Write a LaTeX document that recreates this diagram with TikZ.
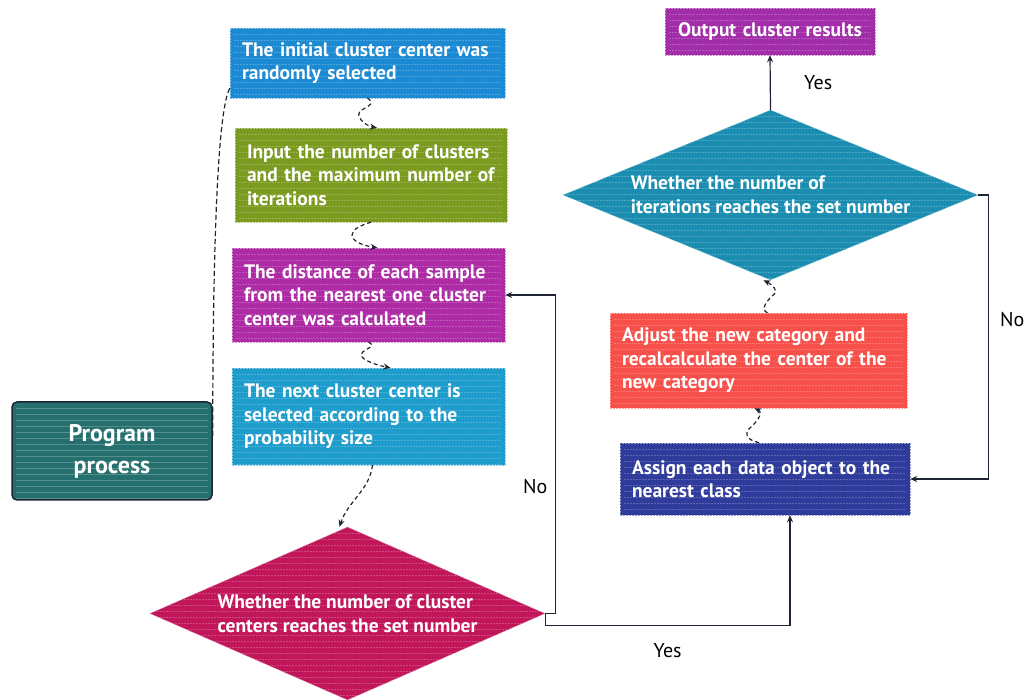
\documentclass[tikz,border=0pt]{standalone}
\usepackage{fontspec}
\setmainfont{PT Sans}
\usetikzlibrary{shapes.geometric,arrows.meta}
\definecolor{initblue}{HTML}{1B8AD3}
\definecolor{inputgreen}{HTML}{7B9A20}
\definecolor{distpurple}{HTML}{AE2BA6}
\definecolor{nextcyan}{HTML}{1E9CCB}
\definecolor{progteal}{HTML}{25706F}
\definecolor{centerred}{HTML}{C1175A}
\definecolor{iterteal}{HTML}{1A8DB0}
\definecolor{outpurple}{HTML}{A12DA9}
\definecolor{adjustred}{HTML}{F7504A}
\definecolor{assignblue}{HTML}{2F3C9B}
\definecolor{linegray}{HTML}{1E2433}
\tikzset{
  streaks/.style={path picture={
    \foreach \k in {1,...,30}
      \draw[white, opacity=0.22, line width=0.7pt]
        ([yshift=-\k*6pt, xshift=4pt]path picture bounding box.north west) --
        ([yshift=-\k*6pt, xshift=-4pt]path picture bounding box.north east);}},
  box/.style={draw=#1!50!white, dash pattern=on 2pt off 1pt, fill=#1, streaks, text=white,
    font=\bfseries\fontsize{19.5}{23.5}\selectfont, align=left, inner xsep=12pt, inner ysep=0pt},
  decision/.style={diamond, shape aspect=2.4, draw=#1!50!white, dash pattern=on 2pt off 1pt,
    fill=#1, streaks, text=white, font=\bfseries\fontsize{19.5}{24}\selectfont, align=left, inner sep=0pt},
  line/.style={draw=linegray, line width=1.2pt, -{Stealth[length=7pt,width=6pt]}},
  squig/.style={line, dash pattern=on 4pt off 3pt},
  lbl/.style={font=\fontsize{20}{22}\selectfont, text=black},
}
\begin{document}
\begin{tikzpicture}[x=1pt, y=-1pt]
\useasboundingbox (0,0) rectangle (1026,700);
% left column
\node[box=initblue, text width=251pt, minimum height=70pt] (init) at (367.5,63) {The initial cluster center was\\randomly selected};
\node[box=inputgreen, text width=248pt, minimum height=94pt] (input) at (371,175) {Input the number of clusters\\and the maximum number of\\iterations};
\node[box=distpurple, text width=249pt, minimum height=94pt] (dist) at (368.5,295) {The distance of each sample\\from the nearest one cluster\\center was calculated};
\node[box=nextcyan, text width=249pt, minimum height=97pt] (next) at (368.5,416.5) {The next cluster center is\\selected according to the\\probability size};
\node[box=progteal, draw=linegray, solid, line width=1.5pt, rounded corners=5pt, align=center, text width=176pt,
  minimum height=98pt, font=\bfseries\fontsize{24}{32}\selectfont] (prog) at (112,451) {Program\\process};
\node[decision=centerred, minimum width=395pt, minimum height=173pt] (ccheck) at (347.5,613.5) {Whether the number of cluster\\centers reaches the set number};
% right column
\node[box=assignblue, text width=266pt, minimum height=72pt] (assign) at (765,479) {Assign each data object to the\\nearest class};
\node[box=adjustred, text width=273pt, minimum height=95pt] (adjust) at (758.5,360.5) {Adjust the new category and\\recalcalculate the center of the\\new category};
\node[decision=iterteal, minimum width=415pt, minimum height=170pt] (icheck) at (770.5,195) {Whether the number of\\iterations reaches the set number};
\node[box=outpurple, align=center, text width=186pt, minimum height=47pt] (result) at (770,31.5) {Output cluster results};
% connectors
\draw[line, -, dash pattern=on 5pt off 3pt] ([yshift=10pt]init.south west) .. controls +(-14,25) and +(0,-150) .. ([yshift=15pt]prog.east);
\draw[squig] (init.south) .. controls +(8,5) and +(8,-5) .. ++(-6,12) .. controls +(-8,5) and +(-12,-2) .. ([xshift=6pt]input.north);
\draw[squig] (input.south) .. controls +(-10,3) and +(0,-6) .. ++(-19,13) .. controls +(0,6) and +(-14,-2) .. ([xshift=9pt]dist.north);
\draw[squig] (dist.south) .. controls +(8,4) and +(6,-5) .. ++(-6,10) .. controls +(-6,6) and +(-16,-3) .. ([xshift=22pt]next.north);
\draw[squig] ([xshift=4pt]next.south) .. controls +(-3,25) and +(8,-25) .. ([xshift=-8pt]ccheck.north);
\draw[line] (ccheck.east) -- ++(10,0) |- node[lbl, pos=0.2, left=4pt] {No} (dist.east);
\draw[line] (ccheck.east) -- ++(0,12) -| node[lbl, pos=0.25, below=14pt] {Yes} ([xshift=25pt]assign.south);
\draw[squig] ([xshift=-6pt]assign.north) .. controls +(-14,-4) and +(-4,6) .. ++(-10,-14) .. controls +(6,-5) and +(10,5) .. ([xshift=-4pt]adjust.south);
\draw[squig] ([xshift=9pt]adjust.north) .. controls +(-8,-3) and +(-6,5) .. ++(6,-18) .. controls +(6,-4) and +(8,4) .. ([xshift=-7pt]icheck.south);
\draw[line] (icheck.north) -- node[lbl, right=30pt] {Yes} (result.south);
\draw[line] (icheck.east) -- ++(10,0) |- node[lbl, pos=0.22, right=8pt] {No} (assign.east);
\end{tikzpicture}
\end{document}
